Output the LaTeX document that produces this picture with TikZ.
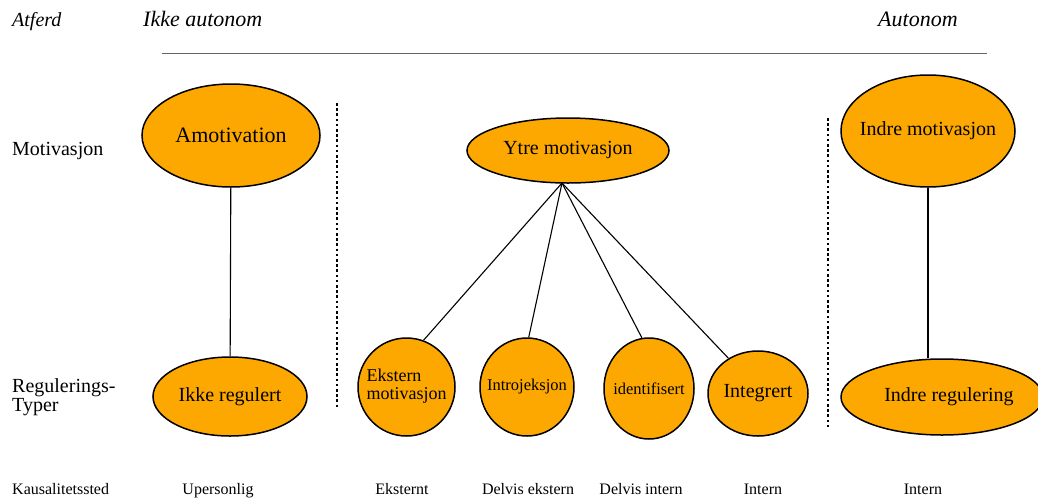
\documentclass[tikz,border=0pt]{standalone}
\usepackage{fontspec}
\setmainfont{Liberation Serif}
\usetikzlibrary{shapes.geometric}
\definecolor{sdtorange}{RGB}{253,168,0}
\newcommand{\inblob}[1]{\makebox[0pt][c]{#1}}

\begin{document}
\begin{tikzpicture}[x=1pt,y=-1pt,
  mot/.style={ellipse,draw,line width=1.5pt,fill=sdtorange,inner sep=0pt},
  head/.style={anchor=base west,inner sep=0pt,font=\fontsize{22}{24}\selectfont\itshape},
  row/.style={anchor=base west,inner sep=0pt,align=left,font=\fontsize{20}{19.5}\selectfont},
  kaus/.style={anchor=base,inner sep=0pt,font=\fontsize{16}{18}\selectfont},
  sep/.style={line width=2.6pt,dash pattern=on 2.6pt off 2.6pt}]
  \useasboundingbox (0,0) rectangle (1038,499);
 % \draw[help lines] (0,0) grid[step=50] (1038,499);
  \node[head,font=\fontsize{20}{22}\selectfont\itshape] (atferd) at (12,26) {Atferd};
  \node[head] (ikkeaut) at (143,26) {Ikke autonom};
  \node[head] (aut) at (878,26) {Autonom};
  \coordinate (scaleL) at (162,53);
  \coordinate (scaleR) at (987,53);
  \draw[gray!80!black,line width=0.9pt] (scaleL) -- (scaleR);

  \node[row] (motiv) at (12,155) {Motivasjon};
  \node[row,anchor=north west] (regtyp) at (12,378) {Regulerings-\\Typer};
  \node[kaus,anchor=base west] (kausal) at (12,494) {Kausalitetssted};

  \node[mot,minimum width=178pt,minimum height=103pt,font=\fontsize{22}{24}\selectfont]
    (amot) at (231,135.5) {\inblob{Amotivation}};
  \node[mot,minimum width=154pt,minimum height=79pt,font=\fontsize{20}{22}\selectfont]
    (ikkereg) at (230,396.5) {\inblob{Ikke regulert}};
  \node[mot,minimum width=202pt,minimum height=65pt,font=\fontsize{20}{22}\selectfont]
    (ytre) at (568,150.5) {\inblob{Ytre motivasjon}};
  \node[mot,minimum width=97pt,minimum height=98pt,font=\fontsize{18}{18}\selectfont]
    (ekst) at (406.5,387) {\inblob{\begin{tabular}{@{}l@{}}Ekstern\\motivasjon\end{tabular}}};
  \node[mot,minimum width=94pt,minimum height=98pt,font=\fontsize{16.5}{18}\selectfont]
    (intro) at (527,387) {\inblob{Introjeksjon}};
  \node[mot,minimum width=90pt,minimum height=101pt,font=\fontsize{16.5}{18}\selectfont]
    (ident) at (649,388.5) {\inblob{identifisert}};
  \node[mot,minimum width=100pt,minimum height=85pt,font=\fontsize{20}{22}\selectfont]
    (integ) at (758,393.5) {\inblob{Integrert}};
  \node[mot,minimum width=174pt,minimum height=112pt,font=\fontsize{20}{22}\selectfont]
    (indmot) at (928,131) {\inblob{Indre motivasjon}};
  \node[mot,minimum width=202pt,minimum height=76pt,font=\fontsize{20}{22}\selectfont]
    (indreg) at (942,397) {\inblob{\hspace*{14pt}Indre regulering}};

  \coordinate (hub) at (562,183);
  \path[draw,line width=1.1pt] (amot) edge (ikkereg)
        (hub) edge (ekst.70)
        (hub) edge (intro.88)
        (hub) edge (ident.98)
        (hub) edge (integ.130)
        (indmot) edge (indmot |- indreg.north);

  \coordinate (sepA1) at (337,103);
  \coordinate (sepA2) at (337,408);
  \coordinate (sepB1) at (828,118);
  \coordinate (sepB2) at (828,430);
  \draw[sep] (sepA1) -- (sepA2);
  \draw[sep] (sepB1) -- (sepB2);

  \node[kaus] (uperson) at (218,494) {Upersonlig};
  \node[kaus] (ekstern) at (402,494) {Eksternt};
  \node[kaus] (delvek) at (528,494) {Delvis ekstern};
  \node[kaus] (delvin) at (641,494) {Delvis intern};
  \node[kaus] (intern) at (763,494) {Intern};
  \node[kaus] (intern2) at (923,494) {Intern};
\end{tikzpicture}
\end{document}
